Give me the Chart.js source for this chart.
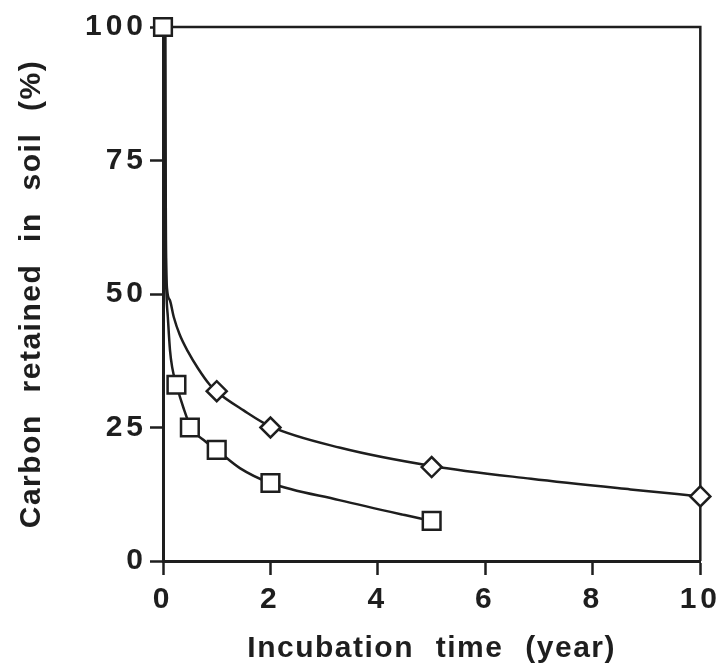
<!DOCTYPE html>
<html>
<head>
<meta charset="utf-8">
<script src="https://cdn.jsdelivr.net/npm/chart.js@4.4.1/dist/chart.umd.min.js"></script>
<style>
  html, body { margin:0; background:#fff; }
</style>
</head>
<body>
<canvas id="chart" width="724" height="669"></canvas>
<script>
// axis ticks
const xTicks = [0, 2, 4, 6, 8, 10];
const yTicks = [0, 25, 50, 75, 100];

// measured points
const squareT = [0, 0.25, 0.5, 1, 2, 5];
const squareC = [100, 33, 25, 20.8, 14.6, 7.5];
const diamondT = [1, 2, 5, 10];
const diamondC = [31.8, 25, 17.6, 12.1];

// fitted curves
const upperT = [0.04, 0.045, 0.055, 0.075, 0.125, 0.2, 0.31, 0.46, 0.65, 0.87, 1.0, 1.5, 2.0, 3.3, 5.0, 6.85, 8.7, 10];
const upperC = [100, 80, 60, 51, 48.9, 45.7, 42.4, 39.3, 36.1, 33.0, 31.7, 28.2, 25.2, 21.2, 17.8, 15.4, 13.4, 12.1];
const lowerT = [0.04, 0.045, 0.05, 0.065, 0.09, 0.13, 0.17, 0.25, 0.38, 0.52, 0.75, 1.0, 1.43, 2.0, 3.28, 4.5, 5.0];
const lowerC = [100, 80, 60, 50, 45.7, 39.5, 36.3, 33, 28.7, 25, 22.7, 20.8, 17.4, 14.6, 11.4, 8.6, 7.5];

const ink = "#1e1e1e";
const pts = (xs, ys) => xs.map((x, i) => ({ x, y: ys[i] }));
const bold30 = { family: "'Liberation Sans', Arial, sans-serif", weight: "bold", size: 30 };

// box frame + letter spacing for the text
const decor = {
  id: "decor",
  beforeDraw(c){
    c.ctx.letterSpacing = "1.5px";
    c.ctx.wordSpacing = "12px";
  },
  beforeDatasetsDraw(c){
    const { ctx, chartArea: a } = c;
    ctx.save();
    ctx.strokeStyle = ink;
    ctx.lineWidth = 2.5;
    ctx.beginPath();
    ctx.moveTo(a.left, a.top);
    ctx.lineTo(a.right, a.top);
    ctx.lineTo(a.right, a.bottom);
    ctx.stroke();
    ctx.restore();
  },
  afterDatasetsDraw(c){
    c.ctx.letterSpacing = "4px";
    c.ctx.wordSpacing = "0px";
  },
  afterDraw(c){
    c.ctx.letterSpacing = "0px";
    c.ctx.wordSpacing = "0px";
  }
};

new Chart(document.getElementById("chart"), {
  type: "scatter",
  data: {
    datasets: [
      { data: pts(squareT, squareC), pointStyle: "rect", pointRadius: 12.5, clip: false,
        pointBackgroundColor: "#fff", pointBorderColor: ink, pointBorderWidth: 2.5, order: 0 },
      { data: pts(diamondT, diamondC), pointStyle: "rectRot", pointRadius: 10, clip: false,
        pointBackgroundColor: "#fff", pointBorderColor: ink, pointBorderWidth: 2.5, order: 1 },
      { data: pts(upperT, upperC), showLine: true, pointRadius: 0, borderColor: ink,
        borderWidth: 2.5, cubicInterpolationMode: "monotone", order: 2 },
      { data: pts(lowerT, lowerC), showLine: true, pointRadius: 0, borderColor: ink,
        borderWidth: 2.5, cubicInterpolationMode: "monotone", order: 3 }
    ]
  },
  options: {
    responsive: false,
    animation: false,
    layout: { padding: { top: 27, right: 21, left: 0, bottom: 0 } },
    plugins: { legend: { display: false }, tooltip: { enabled: false } },
    scales: {
      x: {
        type: "linear", min: 0, max: 10,
        afterBuildTicks: s => { s.ticks = xTicks.map(v => ({ value: v })); },
        afterFit: s => { s.height = 108; },
        grid: { drawOnChartArea: false, tickLength: 14, tickWidth: 2.5, tickColor: ink },
        border: { color: ink, width: 3 },
        ticks: { font: bold30, color: ink, padding: 7, maxRotation: 0, autoSkip: false, z: 1 },
        title: { display: true, text: "Incubation time (year)", font: bold30, color: ink,
                 padding: { top: 0, bottom: 2 } }
      },
      y: {
        min: 0, max: 100,
        afterBuildTicks: s => { s.ticks = yTicks.map(v => ({ value: v })); },
        afterFit: s => { s.width = 163; },
        grid: { drawOnChartArea: false, tickLength: 13, tickWidth: 2.5, tickColor: ink },
        border: { color: ink, width: 3 },
        ticks: { font: bold30, color: ink, padding: 3, autoSkip: false, z: 1 },
        title: { display: true, text: "Carbon retained in soil (%)", font: bold30, color: ink,
                 padding: { top: 14, bottom: 0 } }
      }
    }
  },
  plugins: [decor]
});
</script>
</body>
</html>
